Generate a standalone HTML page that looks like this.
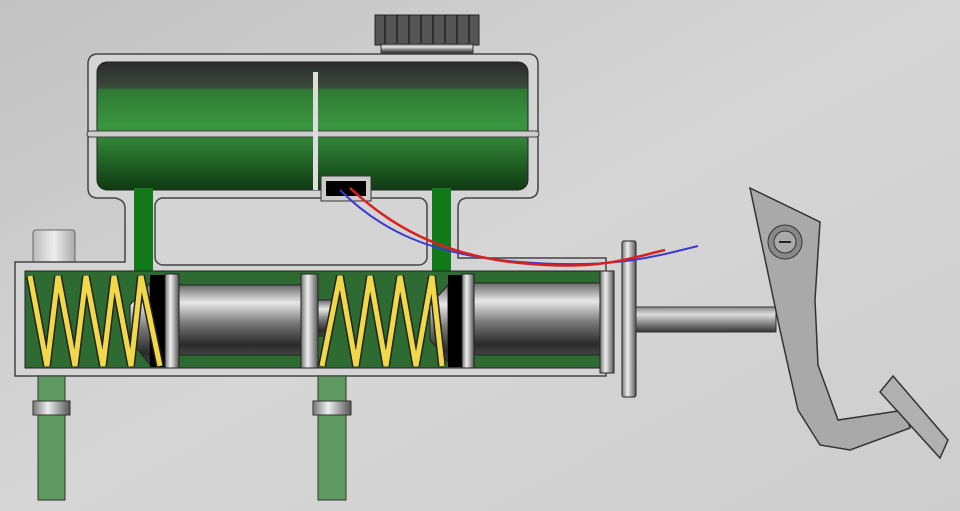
<!DOCTYPE html>
<html><head><meta charset="utf-8"><style>html,body{margin:0;padding:0;width:960px;height:511px;overflow:hidden}</style></head><body>
<svg width="960" height="511" viewBox="0 0 960 511" xmlns="http://www.w3.org/2000/svg">
<defs>
<linearGradient id="bg" x1="0" y1="0" x2="1" y2="1"><stop offset="0" stop-color="#c2c2c2"/><stop offset="0.5" stop-color="#d6d6d6"/><stop offset="1" stop-color="#cdcdcd"/></linearGradient>
<linearGradient id="met" x1="0" y1="0" x2="0" y2="1"><stop offset="0" stop-color="#6a6a6a"/><stop offset="0.25" stop-color="#e8e8e8"/><stop offset="0.55" stop-color="#777"/><stop offset="0.85" stop-color="#2a2a2a"/><stop offset="1" stop-color="#444"/></linearGradient>
<linearGradient id="metv" x1="0" y1="0" x2="1" y2="0"><stop offset="0" stop-color="#777"/><stop offset="0.4" stop-color="#eee"/><stop offset="1" stop-color="#555"/></linearGradient>
<linearGradient id="grn" x1="0" y1="0" x2="0" y2="1"><stop offset="0" stop-color="#2a2a2a"/><stop offset="0.2" stop-color="#3a4a3a"/><stop offset="0.22" stop-color="#2f7a33"/><stop offset="0.5" stop-color="#3a9640"/><stop offset="1" stop-color="#0f3a12"/></linearGradient>
<linearGradient id="rod" x1="0" y1="0" x2="0" y2="1"><stop offset="0" stop-color="#888"/><stop offset="0.3" stop-color="#ddd"/><stop offset="1" stop-color="#333"/></linearGradient>
<linearGradient id="port" x1="0" y1="0" x2="1" y2="0"><stop offset="0" stop-color="#bbb"/><stop offset="0.5" stop-color="#eee"/><stop offset="1" stop-color="#aaa"/></linearGradient>
</defs>
<rect width="960" height="511" fill="url(#bg)"/>
<!-- cap -->
<rect x="375" y="15" width="104" height="30" fill="#555" stroke="#222"/>
<g stroke="#222" stroke-width="1.5"><line x1="385" y1="15" x2="385" y2="45"/><line x1="397" y1="15" x2="397" y2="45"/><line x1="409" y1="15" x2="409" y2="45"/><line x1="421" y1="15" x2="421" y2="45"/><line x1="433" y1="15" x2="433" y2="45"/><line x1="445" y1="15" x2="445" y2="45"/><line x1="457" y1="15" x2="457" y2="45"/><line x1="469" y1="15" x2="469" y2="45"/></g>
<rect x="381" y="44" width="92" height="11" fill="url(#met)" stroke="#333"/>
<!-- port tube -->
<rect x="33" y="230" width="42" height="35" rx="3" fill="url(#port)" stroke="#666"/>
<!-- body -->
<path d="M98 54 H528 Q538 54 538 64 V188 Q538 198 528 198 H468 Q458 198 458 208 V258 H606 V376 H15 V262 H125 V208 Q125 200 115 198 H98 Q88 198 88 188 V64 Q88 54 98 54 Z" fill="#d4d4d4" stroke="#444" stroke-width="1.5"/>
<!-- reservoir green -->
<rect x="97" y="62" width="431" height="128" rx="10" fill="url(#grn)" stroke="#222"/>
<rect x="87" y="131" width="452" height="6" rx="3" fill="#ccc" stroke="#444"/>
<rect x="313" y="72" width="5" height="118" fill="#ddd"/>
<!-- necks -->
<rect x="134" y="188" width="19" height="90" fill="#137a1a"/>
<rect x="432" y="188" width="19" height="90" fill="#137a1a"/>
<!-- cylinder green -->
<rect x="25" y="271" width="576" height="97" fill="#2d6b32" stroke="#222"/>
<!-- inner grey box -->
<rect x="155" y="198" width="272" height="67" rx="8" fill="#d4d4d4" stroke="#444" stroke-width="1.5"/>
<!-- primary piston -->
<polygon points="150,283 130,305 130,340 150,365" fill="url(#met)" stroke="#222"/>
<rect x="150" y="275" width="15" height="92" fill="#000"/>
<rect x="165" y="274" width="14" height="94" fill="url(#metv)" stroke="#222"/>
<rect x="179" y="285" width="122" height="70" fill="url(#met)" stroke="#222"/>
<rect x="301" y="274" width="17" height="94" fill="url(#metv)" stroke="#222"/>
<rect x="318" y="300" width="14" height="36" fill="url(#met)" stroke="#222"/>
<!-- secondary piston -->
<polygon points="448,285 430,305 430,340 448,362" fill="url(#met)" stroke="#222"/>
<rect x="448" y="275" width="14" height="92" fill="#000"/>
<rect x="462" y="274" width="12" height="94" fill="url(#metv)" stroke="#222"/>
<rect x="474" y="283" width="126" height="72" fill="url(#met)" stroke="#222"/>
<rect x="600" y="271" width="14" height="102" fill="url(#metv)" stroke="#222"/>
<rect x="622" y="241" width="14" height="156" rx="2" fill="url(#metv)" stroke="#222"/>
<!-- springs -->
<g stroke="#222" stroke-width="8" fill="none" stroke-linejoin="miter"><polyline points="30,276 47,366 58,276 75,366 86,276 103,366 114,276 131,366 141,276 160,366"/><polyline points="322,366 340,276 356,366 370,276 386,366 400,276 416,366 432,276 442,366"/></g>
<g stroke="#f0d84a" stroke-width="5" fill="none" stroke-linejoin="miter"><polyline points="30,276 47,366 58,276 75,366 86,276 103,366 114,276 131,366 141,276 160,366"/><polyline points="322,366 340,276 356,366 370,276 386,366 400,276 416,366 432,276 442,366"/></g>
<!-- pushrod -->
<rect x="636" y="307" width="140" height="25" fill="url(#rod)" stroke="#333"/>
<!-- pedal -->
<polygon points="750,188 820,222 815,300 818,365 838,420 905,410 910,428 850,450 820,445 798,410 780,330" fill="#a9a9a9" stroke="#333" stroke-width="1.5"/>
<polygon points="893,376 948,440 940,458 880,392" fill="#b0b0b0" stroke="#333" stroke-width="1.5"/>
<circle cx="785" cy="242" r="17" fill="#888" stroke="#333"/>
<circle cx="785" cy="242" r="11" fill="#aaa" stroke="#333"/>
<line x1="779" y1="242" x2="791" y2="242" stroke="#222" stroke-width="2"/>
<!-- lines -->
<rect x="38" y="376" width="27" height="124" fill="#5f9a62" stroke="#333"/>
<rect x="33" y="401" width="37" height="14" fill="url(#metv)" stroke="#333"/>
<rect x="318" y="376" width="28" height="124" fill="#5f9a62" stroke="#333"/>
<rect x="313" y="401" width="38" height="14" fill="url(#metv)" stroke="#333"/>
<!-- sensor -->
<rect x="321" y="176" width="50" height="25" fill="#ccc" stroke="#333"/>
<rect x="326" y="181" width="40" height="15" fill="#000"/>
<path d="M340 190 C380 230 430 255 520 262 S650 258 698 246" stroke="#3b3bd0" stroke-width="2" fill="none"/>
<path d="M350 188 C390 225 440 255 520 263 S630 258 665 250" stroke="#d82020" stroke-width="2.5" fill="none"/>
</svg>
</body></html>
